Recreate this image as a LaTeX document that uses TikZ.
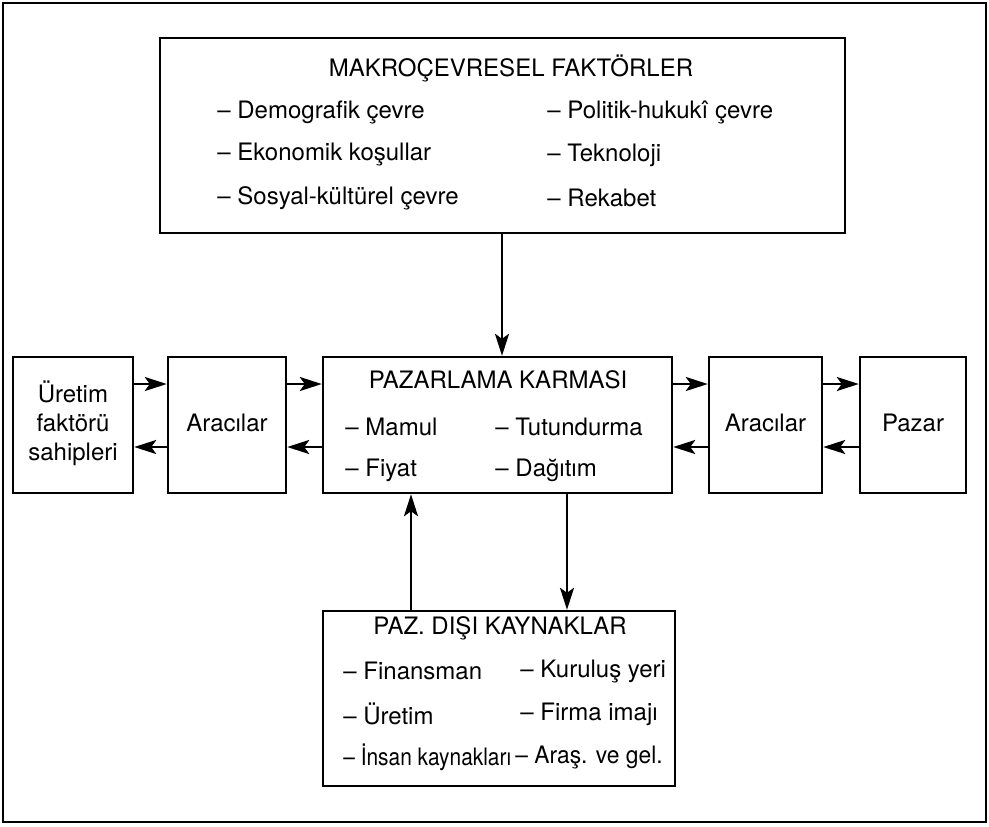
\documentclass[tikz,border=0pt]{standalone}
\usepackage{fontspec}
\usepackage{graphicx}
\setmainfont{TeX Gyre Heros}
\usetikzlibrary{arrows.meta}
\begin{document}
\begin{tikzpicture}[x=0.5pt,y=-0.5pt,
  box/.style={draw, line width=1.2pt, inner sep=0pt},
  txt/.style={inner sep=0pt, font=\fontsize{12}{14.5}\selectfont},
  lt/.style={txt, anchor=west},
  arr/.style={line width=1.3pt, -{Stealth[length=11pt,width=7pt,inset=2.5pt]}}]
\useasboundingbox (0,0) rectangle (989,826);
\node[box, minimum width=491.5pt, minimum height=409.5pt] (frame) at (494.5,412.5) {};
% boxes
\node[box, minimum width=342.5pt, minimum height=97.5pt] (top) at (502.5,135.5) {};
\node[box, minimum width=174.5pt, minimum height=68pt] (pk) at (497.5,425) {};
\node[box, minimum width=60pt, minimum height=68pt] (ur) at (73,425) {};
\node[box, minimum width=59pt, minimum height=68pt] (al) at (227,425) {};
\node[box, minimum width=56.5pt, minimum height=68pt] (ar) at (765.5,425) {};
\node[box, minimum width=53pt, minimum height=68pt] (pz) at (913,425) {};
\node[box, minimum width=176pt, minimum height=87.5pt] (pd) at (499,698.5) {};
% top texts
\node[txt] (t0) at (511,68) {MAKROÇEVRESEL FAKTÖRLER};
\node[lt] (t1) at (217,112) {– Demografik çevre};
\node[lt] (t2) at (217,155) {– Ekonomik koşullar};
\node[lt] (t3) at (217,198) {– Sosyal-kültürel çevre};
\node[lt] (t4) at (547,112) {– Politik-hukukî çevre};
\node[lt] (t5) at (547,155) {– Teknoloji};
\node[lt] (t6) at (547,198) {– Rekabet};
% pazarlama
\node[txt] (k0) at (498,380) {PAZARLAMA KARMASI};
\node[lt] (k1) at (345,427) {– Mamul};
\node[lt] (k2) at (345,470) {– Fiyat};
\node[lt] (k3) at (495,427) {– Tutundurma};
\node[lt] (k4) at (495,470) {– Dağıtım};
% side boxes
\node[txt, align=center] (urt) at (73,423) {Üretim\\faktörü\\sahipleri};
\node[txt] (alt) at (227,423) {Aracılar};
\node[txt] (art) at (765.5,423) {Aracılar};
\node[txt] (pzt) at (913,423) {Pazar};
% paz disi
\node[txt] (d0) at (500,628) {PAZ. DIŞI KAYNAKLAR};
\node[lt] (d1) at (343,671) {– Finansman};
\node[lt] (d2) at (343,714) {– Üretim};
\node[lt] (d3) at (343,757) {\scalebox{0.87}[1]{– İnsan kaynakları}};
\node[lt] (d4) at (520,671) {– Kuruluş yeri};
\node[lt] (d5) at (520,714) {– Firma imajı};
\node[lt] (d6) at (515,757) {\scalebox{0.95}[1]{– Araş. ve gel.}};
% connectors
\coordinate (hr) at (0,384);
\coordinate (hl) at (0,447);
\coordinate (vt) at (502,0);
\coordinate (vu) at (411,0);
\coordinate (vd) at (567,0);
\draw[arr] (ur.east |- hr) -- (al.west |- hr);
\draw[arr] (al.west |- hl) -- (ur.east |- hl);
\draw[arr] (al.east |- hr) -- (pk.west |- hr);
\draw[arr] (pk.west |- hl) -- (al.east |- hl);
\draw[arr] (pk.east |- hr) -- (ar.west |- hr);
\draw[arr] (ar.west |- hl) -- (pk.east |- hl);
\draw[arr] (ar.east |- hr) -- (pz.west |- hr);
\draw[arr] (pz.west |- hl) -- (ar.east |- hl);
\draw[arr] (top.south -| vt) -- (pk.north -| vt);
\draw[arr] (pd.north -| vu) -- (pk.south -| vu);
\draw[arr] (pk.south -| vd) -- (pd.north -| vd);
\end{tikzpicture}
\end{document}
